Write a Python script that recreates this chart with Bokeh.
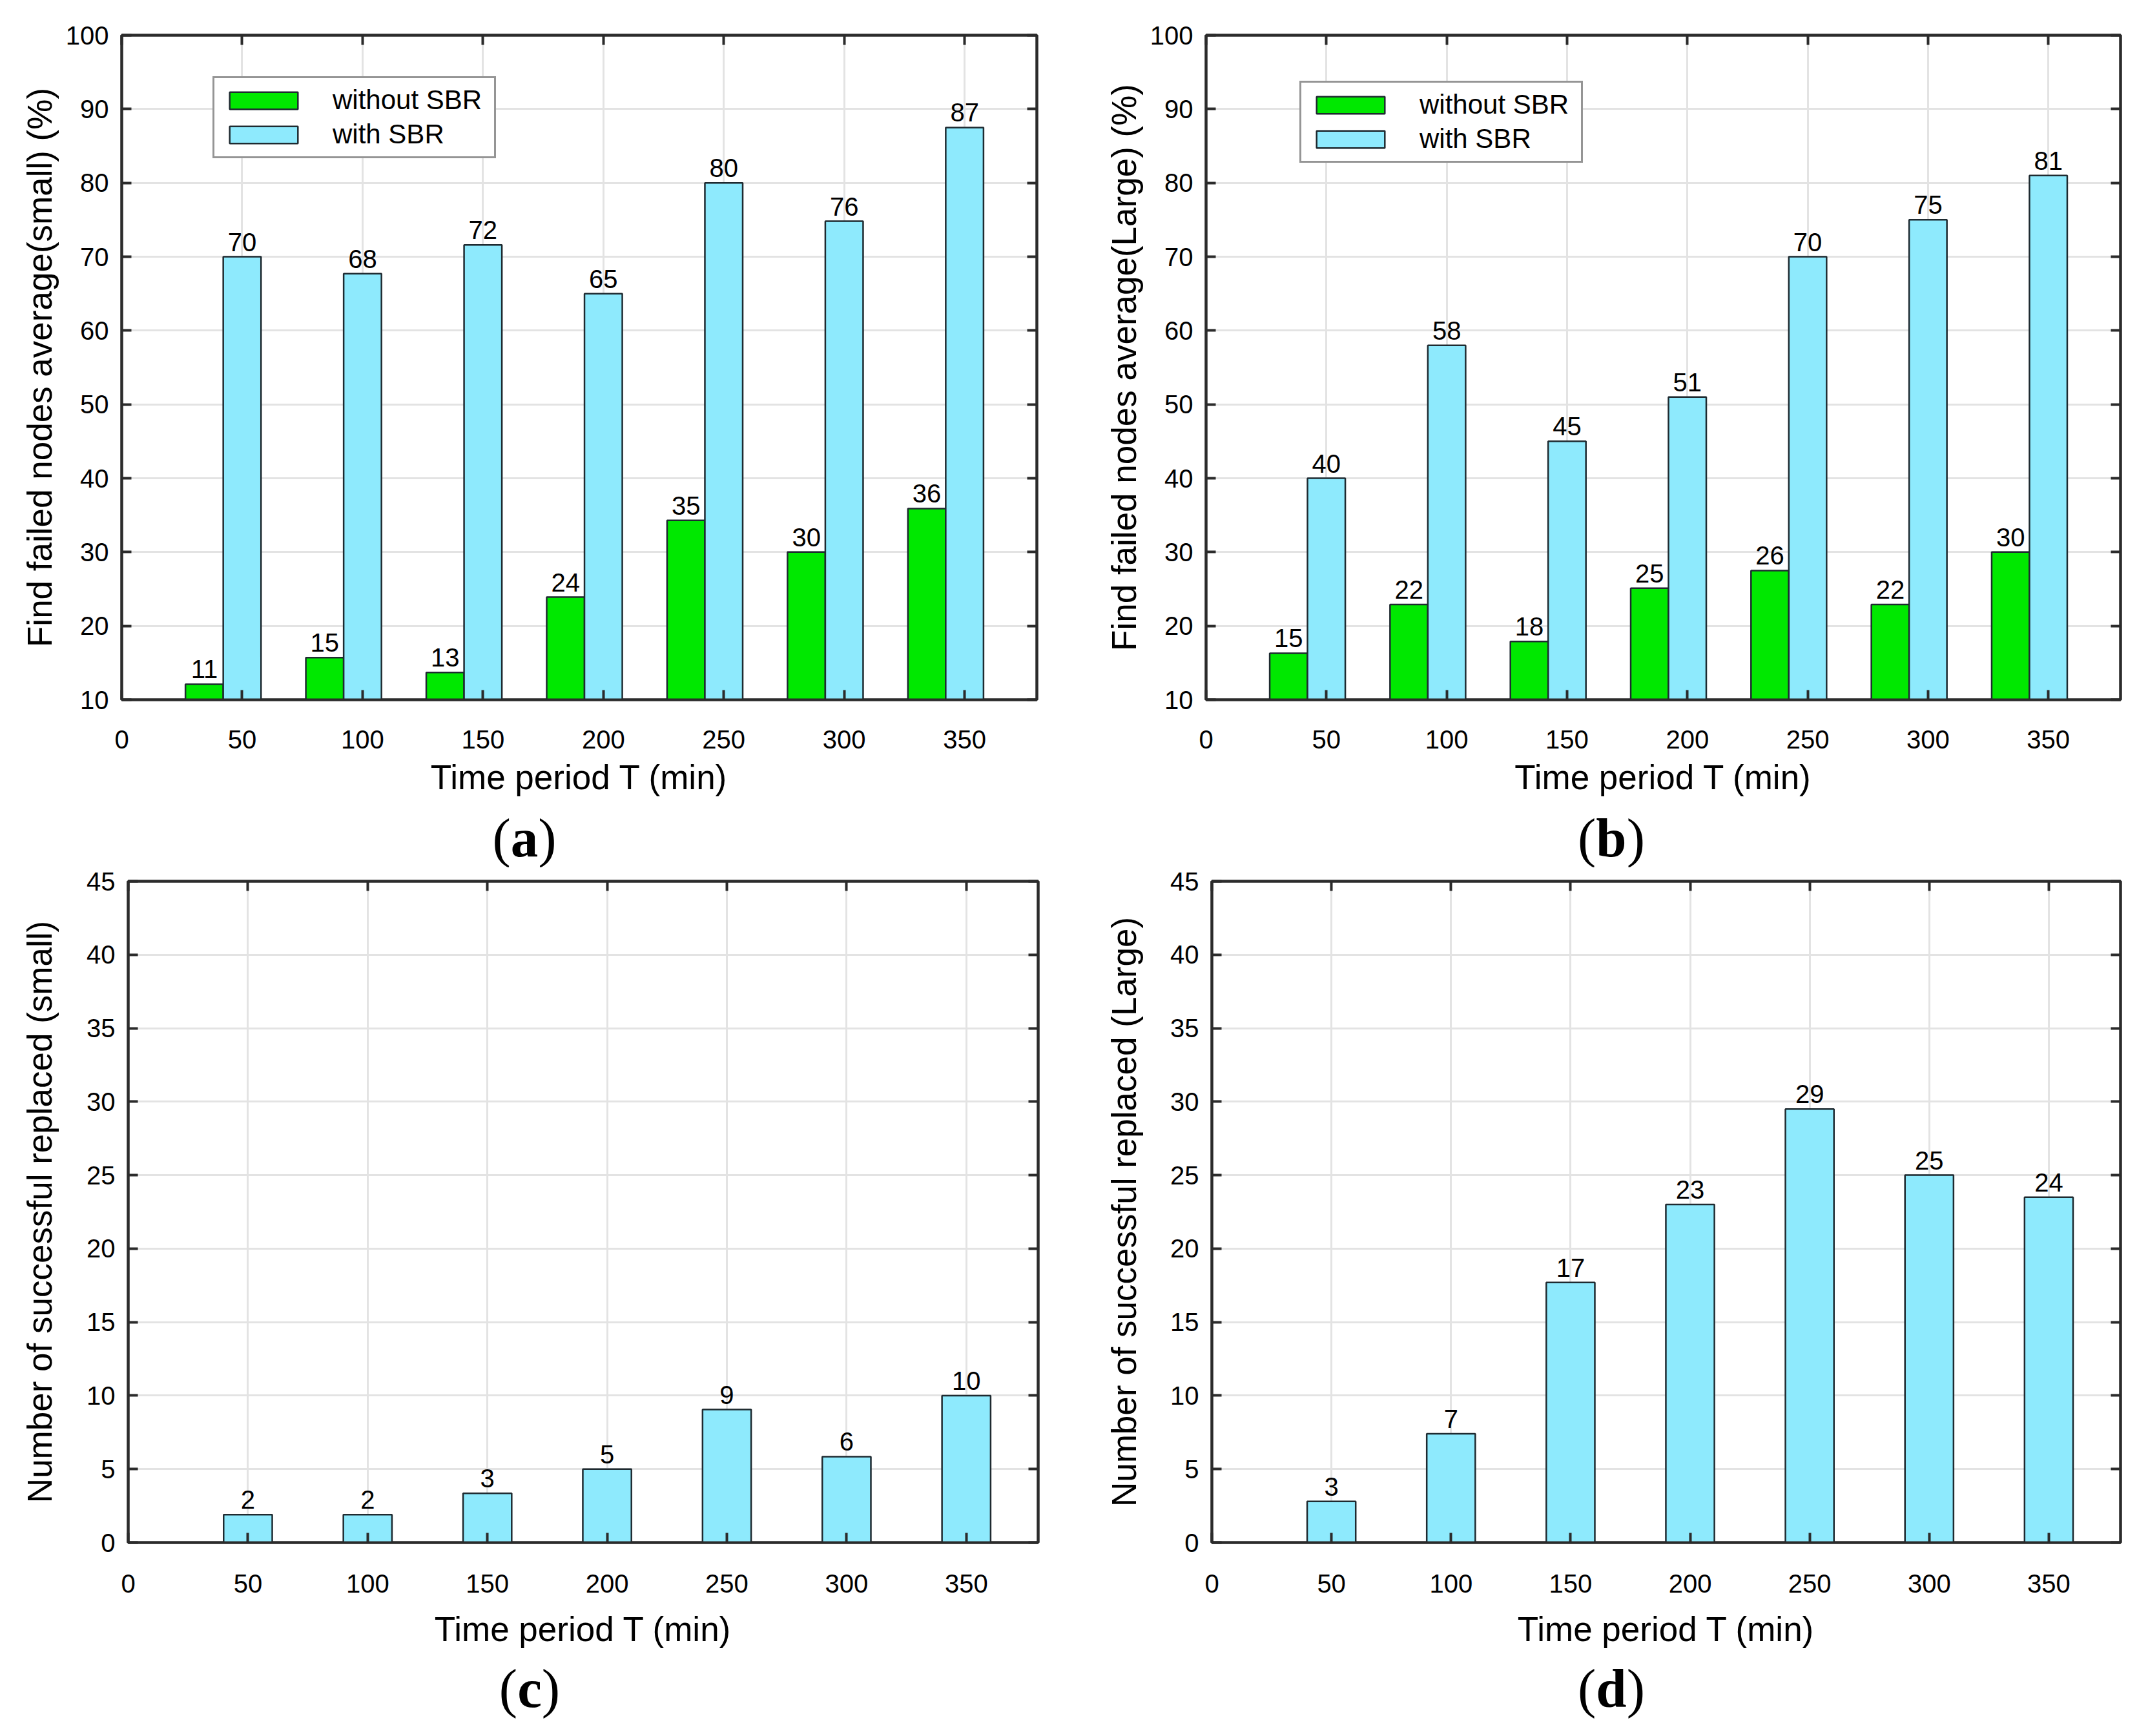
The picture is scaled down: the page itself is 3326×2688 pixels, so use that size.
from bokeh.plotting import figure
from bokeh.models import (Range1d, FixedTicker, LinearAxis, Legend, LegendItem,
                          Div, Spacer, ColumnDataSource, CustomLabelingPolicy)
from bokeh.layouts import column, row
from bokeh.embed import file_html
from bokeh.resources import INLINE
from bokeh.core.properties import value

# ---------------- data ----------------
T = [50, 100, 150, 200, 250, 300, 350]

a_without = [12.1, 15.7, 13.7, 23.9, 34.3, 30.0, 35.9]
a_without_labels = ["11", "15", "13", "24", "35", "30", "36"]
a_with = [70.0, 67.7, 71.6, 65.0, 80.0, 74.8, 87.5]
a_with_labels = ["70", "68", "72", "65", "80", "76", "87"]

b_without = [16.3, 22.9, 17.9, 25.1, 27.5, 22.9, 30.0]
b_without_labels = ["15", "22", "18", "25", "26", "22", "30"]
b_with = [40.0, 58.0, 45.0, 51.0, 70.0, 75.0, 81.0]
b_with_labels = ["40", "58", "45", "51", "70", "75", "81"]

c_with = [1.9, 1.9, 3.35, 5.0, 9.05, 5.85, 10.0]
c_labels = ["2", "2", "3", "5", "9", "6", "10"]

d_with = [2.8, 7.4, 17.7, 23.0, 29.5, 25.0, 23.5]
d_labels = ["3", "7", "17", "23", "29", "25", "24"]

x_ticks = [0, 50, 100, 150, 200, 250, 300, 350]
y_ticks_ab = [10, 20, 30, 40, 50, 60, 70, 80, 90, 100]
y_ticks_cd = [0, 5, 10, 15, 20, 25, 30, 35, 40, 45]

series_names = ["without SBR", "with SBR"]
xlabel = "Time period T (min)"
ylabels = ["Find failed nodes average(small) (%)",
           "Find failed nodes average(Large) (%)",
           "Number of successful replaced (small)",
           "Number of successful replaced (Large)"]
captions = ["a", "b", "c", "d"]

# ---------------- style ----------------
GREEN = "#00E800"
BLUE = "#8EEAFD"
EDGE = "#1E2A30"
FRAME = "#2B2B2B"
GRID = "#E3E3E3"
FONT = "Liberation Sans"

HIDE_LABELS = CustomLabelingPolicy(code="""
for (const i of Array.from(indices)) { indices.unset(i) }
return indices
""")


def make_fig(width, height, bl, br, bt, bb, y0, y1, yticks, ylab,
             ylab_standoff, xtick_standoff, xlab_standoff):
    p = figure(width=width, height=height, output_backend="svg",
               toolbar_location=None, x_range=Range1d(0, 380),
               y_range=Range1d(y0, y1), min_border_left=bl,
               min_border_right=br, min_border_top=bt, min_border_bottom=bb)
    p.xaxis.ticker = FixedTicker(ticks=x_ticks)
    p.yaxis.ticker = FixedTicker(ticks=yticks)
    p.xgrid.ticker = FixedTicker(ticks=x_ticks)
    p.ygrid.ticker = FixedTicker(ticks=yticks)
    p.grid.grid_line_color = GRID
    p.grid.grid_line_width = 3
    p.outline_line_color = FRAME
    p.outline_line_width = 4
    p.outline_line_alpha = 1
    for ax in (p.xaxis[0], p.yaxis[0]):
        ax.axis_line_color = FRAME
        ax.axis_line_width = 4
        ax.major_tick_in = 15
        ax.major_tick_out = 0
        ax.major_tick_line_color = FRAME
        ax.major_tick_line_width = 4
        ax.minor_tick_in = 0
        ax.minor_tick_out = 0
        ax.major_label_text_font = FONT
        ax.major_label_text_font_size = "40px"
        ax.major_label_text_color = "black"
        ax.axis_label_text_font = FONT
        ax.axis_label_text_font_size = "53px"
        ax.axis_label_text_font_style = "normal"
        ax.axis_label_text_color = "black"
    p.xaxis.axis_label = xlabel
    p.yaxis.axis_label = ylab
    p.xaxis.major_label_standoff = xtick_standoff
    p.yaxis.major_label_standoff = 20
    p.xaxis.axis_label_standoff = xlab_standoff
    p.yaxis.axis_label_standoff = ylab_standoff
    for loc, tk in (("above", x_ticks), ("right", yticks)):
        ax = LinearAxis(ticker=FixedTicker(ticks=tk),
                        major_label_policy=HIDE_LABELS,
                        major_label_text_font_size="1px",
                        major_label_standoff=0,
                        major_tick_in=15, major_tick_out=0,
                        minor_tick_in=0, minor_tick_out=0,
                        major_tick_line_color=FRAME, major_tick_line_width=4,
                        axis_line_color=FRAME, axis_line_width=4)
        p.add_layout(ax, loc)
    return p


def add_labels(p, xs, tops, labels):
    src = ColumnDataSource(dict(x=xs, y=tops, t=labels))
    p.text(x="x", y="y", text="t", source=src, text_font=value(FONT),
           text_font_size=value("40px"), text_align="center",
           text_baseline="bottom", y_offset=-9, text_color="black")


def grouped(p, without, with_, wl, wil, legend_loc):
    w = 15.7
    xg = [t - w for t in T]
    rg = p.vbar(x=xg, top=without, bottom=10, width=w, fill_color=GREEN,
                line_color=EDGE, line_width=2.5)
    rb = p.vbar(x=T, top=with_, bottom=10, width=w, fill_color=BLUE,
                line_color=EDGE, line_width=2.5)
    add_labels(p, xg, without, wl)
    add_labels(p, T, with_, wil)
    leg = Legend(items=[LegendItem(label=series_names[0], renderers=[rg]),
                        LegendItem(label=series_names[1], renderers=[rb])],
                 location=legend_loc, margin=0, padding=10, spacing=5,
                 glyph_width=132, glyph_height=33, label_standoff=41,
                 label_width=240,
                 label_text_font=FONT, label_text_font_size="42px",
                 label_text_color="black",
                 border_line_color=FRAME, border_line_width=3,
                 background_fill_color="white", background_fill_alpha=1)
    p.add_layout(leg)


def single(p, vals, labels):
    w = 20.3
    p.vbar(x=T, top=vals, bottom=0, width=w, fill_color=BLUE,
           line_color=EDGE, line_width=2.5)
    add_labels(p, T, vals, labels)


pa = make_fig(1655, 1242, 188, 50, 54, 159, 10, 100, y_ticks_ab, ylabels[0],
              8, 47, 12)
grouped(pa, a_without, a_with, a_without_labels, a_with_labels, (141, 838))

pb = make_fig(1655, 1242, 212, 27, 54, 159, 10, 100, y_ticks_ab, ylabels[1],
              8, 47, 12)
grouped(pb, b_without, b_with, b_without_labels, b_with_labels, (145, 831))

pc = make_fig(1655, 1220, 198, 48, 22, 174, 0, 45, y_ticks_cd, ylabels[2],
              40, 49, 24)
single(pc, c_with, c_labels)

pd_ = make_fig(1655, 1220, 221, 27, 22, 174, 0, 45, y_ticks_cd, ylabels[3],
               39, 49, 24)
single(pd_, d_with, d_labels)


def caption(letter, w, h, pad):
    html = ('<div style="font-family:\'Liberation Serif\';font-size:85px;'
            'line-height:%dpx;padding-top:%dpx;text-align:center;'
            'width:%dpx;color:black;">(<b>%s</b>)</div>'
            % (h - pad, pad, w, letter))
    return Div(text=html, width=w, height=h, margin=0)


cap1 = row(caption(captions[0], 1624, 100, 10), Spacer(width=56, height=100),
           caption(captions[1], 1630, 100, 10))
cap2 = row(caption(captions[2], 1640, 104, 0), Spacer(width=40, height=104),
           caption(captions[3], 1630, 104, 0))

layout = column(row(pa, pb), cap1, row(pc, pd_), cap2)

open("out.html", "w").write(file_html(layout, INLINE))
